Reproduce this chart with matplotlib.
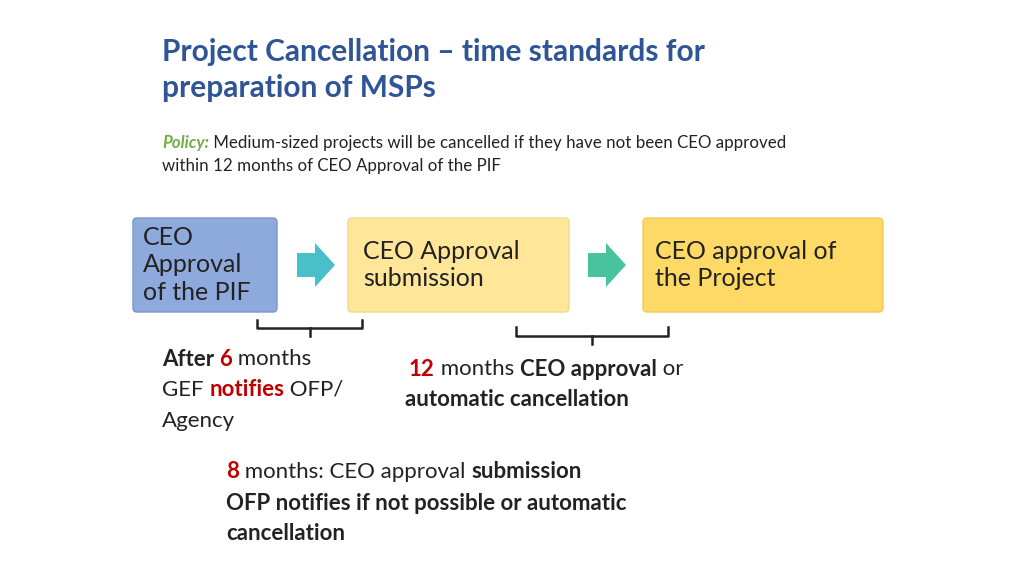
import matplotlib.pyplot as plt
from matplotlib.patches import FancyBboxPatch, Polygon

plt.rcParams["font.family"] = "Lato"

TITLE = ["Project Cancellation \u2013 time standards for", "preparation of MSPs"]
POLICY = [[("Policy:", "#70AD47", "bold", "italic"),
           (" Medium-sized projects will be cancelled if they have not been CEO approved", "#222222", "normal", "normal")],
          [("within 12 months of CEO Approval of the PIF", "#222222", "normal", "normal")]]
BOX_LABELS = ["CEO\nApproval\nof the PIF", "CEO Approval\nsubmission", "CEO approval of\nthe Project"]
BOX_COLORS = ["#8EA9DB", "#FFE699", "#FFD966"]
BOX_EDGES = ["#7A96C8", "#F5D98A", "#F2CB55"]
ARROW_COLORS = ["#48BFC9", "#48C39E"]

RED = "#C00000"
K = "#222222"
NOTE1 = [[("After ", K, "bold"), ("6", RED, "bold"), (" months", K, "normal")],
         [("GEF ", K, "normal"), ("notifies", RED, "bold"), (" OFP/", K, "normal")],
         [("Agency", K, "normal")]]
NOTE2 = [[("12", RED, "bold"), (" months ", K, "normal"), ("CEO approval", K, "bold"), (" or", K, "normal")],
         [("automatic cancellation", K, "bold")]]
NOTE3 = [[("8", RED, "bold"), (" months: CEO approval ", K, "normal"), ("submission", K, "bold")],
         [("OFP notifies if not possible or automatic", K, "bold")],
         [("cancellation", K, "bold")]]

fig = plt.figure(figsize=(10.24, 5.76), dpi=100)
ax = fig.add_axes([0, 0, 1, 1])
ax.set_xlim(0, 1024)
ax.set_ylim(576, 0)
ax.axis("off")
fig.canvas.draw()
renderer = fig.canvas.get_renderer()


def rich(x, y, segs, size, style="normal"):
    for seg in segs:
        txt, col, wt = seg[0], seg[1], seg[2]
        st = seg[3] if len(seg) > 3 else style
        t = ax.text(x, y, txt, color=col, fontweight=wt, fontstyle=st,
                    fontsize=size, va="center", ha="left")
        bb = t.get_window_extent(renderer)
        x += bb.width


for i, line in enumerate(TITLE):
    ax.text(162, 52 + i * 36, line, color="#2F5597", fontsize=21.5,
            fontweight="bold", va="center")

for i, line in enumerate(POLICY):
    rich(162, 143 + i * 23, line, 12.2)

boxes = [(133, 218, 144, 94), (348, 218, 221, 94), (643, 218, 240, 94)]
text_pos = [(143, 265), (363, 265), (655, 265)]
for (x, y, w, h), lab, fc, ec, (tx, ty) in zip(boxes, BOX_LABELS, BOX_COLORS, BOX_EDGES, text_pos):
    ax.add_patch(FancyBboxPatch((x + 4, y + 4), w - 8, h - 8,
                                boxstyle="round,pad=4", fc=fc, ec=ec, lw=1))
    ax.text(tx, ty, lab, fontsize=18, color=K,
            va="center", ha="left", linespacing=1.25)

for x0, col in zip([297, 588], ARROW_COLORS):
    pts = [(x0, 253), (x0 + 18, 253), (x0 + 18, 243), (x0 + 38, 265),
           (x0 + 18, 287), (x0 + 18, 277), (x0, 277)]
    ax.add_patch(Polygon(pts, closed=True, fc=col, ec="none"))


def brace(x0, x1, ytop, ybot, ytick):
    xm = (x0 + x1) / 2
    ax.plot([x0, x0, x1, x1], [ytop, ybot, ybot, ytop], color="#222222", lw=1.8,
            solid_joinstyle="round")
    ax.plot([xm, xm], [ybot, ytick], color="#222222", lw=1.8)


brace(257, 362, 320, 328, 336)
brace(516, 668, 327, 336, 344)

for i, line in enumerate(NOTE1):
    rich(162, 359 + i * 31, line, 16)
for i, line in enumerate(NOTE2):
    rich(409 if i == 0 else 405, 369 + i * 31, line, 16)
for i, line in enumerate(NOTE3):
    rich(226, 472 + i * 31, line, 16)

fig.savefig("out.png", dpi=100)
